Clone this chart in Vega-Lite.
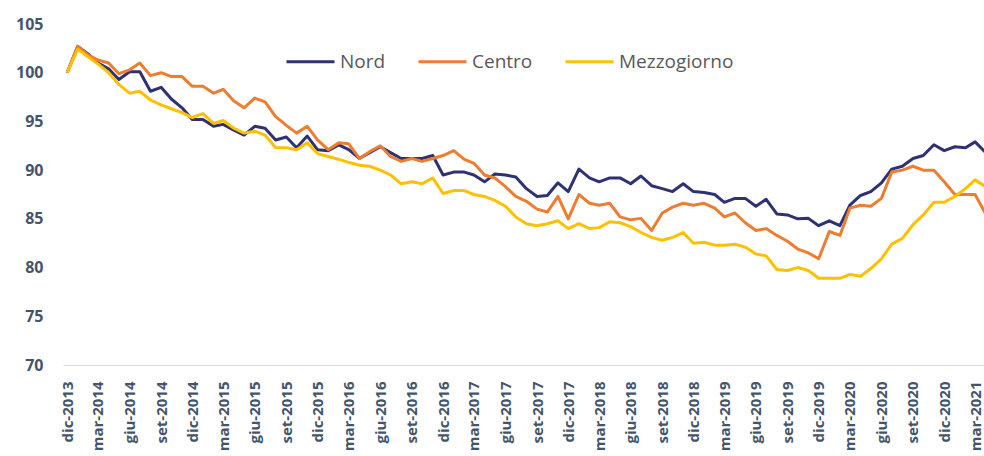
{
  "$schema": "https://vega.github.io/schema/vega-lite/v6.json",
  "autosize": {"type": "none"},
  "padding": {"left": 63, "top": 24, "right": 0, "bottom": 91},
  "width": 921,
  "height": 341,
  "background": "white",
  "config": {"view": {"stroke": null}},
  "data": {"values": [
    {"date": "2013-12-01", "Nord": 100, "Centro": 100, "Mezzogiorno": 100},
    {"date": "2014-01-01", "Nord": 102.7, "Centro": 102.7, "Mezzogiorno": 102.4},
    {"date": "2014-02-01", "Nord": 101.9, "Centro": 101.8, "Mezzogiorno": 101.6},
    {"date": "2014-03-01", "Nord": 101.0, "Centro": 101.3, "Mezzogiorno": 100.9},
    {"date": "2014-04-01", "Nord": 100.4, "Centro": 101.0, "Mezzogiorno": 100.0},
    {"date": "2014-05-01", "Nord": 99.3, "Centro": 99.9, "Mezzogiorno": 98.8},
    {"date": "2014-06-01", "Nord": 100.1, "Centro": 100.3, "Mezzogiorno": 97.9},
    {"date": "2014-07-01", "Nord": 100.1, "Centro": 101.0, "Mezzogiorno": 98.1},
    {"date": "2014-08-01", "Nord": 98.1, "Centro": 99.7, "Mezzogiorno": 97.2},
    {"date": "2014-09-01", "Nord": 98.5, "Centro": 100.0, "Mezzogiorno": 96.7},
    {"date": "2014-10-01", "Nord": 97.3, "Centro": 99.6, "Mezzogiorno": 96.3},
    {"date": "2014-11-01", "Nord": 96.4, "Centro": 99.6, "Mezzogiorno": 95.9},
    {"date": "2014-12-01", "Nord": 95.2, "Centro": 98.6, "Mezzogiorno": 95.4},
    {"date": "2015-01-01", "Nord": 95.2, "Centro": 98.6, "Mezzogiorno": 95.8},
    {"date": "2015-02-01", "Nord": 94.5, "Centro": 97.9, "Mezzogiorno": 94.8},
    {"date": "2015-03-01", "Nord": 94.7, "Centro": 98.3, "Mezzogiorno": 95.1},
    {"date": "2015-04-01", "Nord": 94.1, "Centro": 97.1, "Mezzogiorno": 94.3},
    {"date": "2015-05-01", "Nord": 93.6, "Centro": 96.4, "Mezzogiorno": 93.8},
    {"date": "2015-06-01", "Nord": 94.5, "Centro": 97.4, "Mezzogiorno": 94.0},
    {"date": "2015-07-01", "Nord": 94.3, "Centro": 97.0, "Mezzogiorno": 93.6},
    {"date": "2015-08-01", "Nord": 93.1, "Centro": 95.5, "Mezzogiorno": 92.3},
    {"date": "2015-09-01", "Nord": 93.4, "Centro": 94.6, "Mezzogiorno": 92.3},
    {"date": "2015-10-01", "Nord": 92.3, "Centro": 93.8, "Mezzogiorno": 92.1},
    {"date": "2015-11-01", "Nord": 93.5, "Centro": 94.5, "Mezzogiorno": 92.8},
    {"date": "2015-12-01", "Nord": 92.1, "Centro": 93.1, "Mezzogiorno": 91.7},
    {"date": "2016-01-01", "Nord": 92.0, "Centro": 92.1, "Mezzogiorno": 91.4},
    {"date": "2016-02-01", "Nord": 92.6, "Centro": 92.8, "Mezzogiorno": 91.1},
    {"date": "2016-03-01", "Nord": 92.1, "Centro": 92.7, "Mezzogiorno": 90.8},
    {"date": "2016-04-01", "Nord": 91.2, "Centro": 91.2, "Mezzogiorno": 90.5},
    {"date": "2016-05-01", "Nord": 91.8, "Centro": 91.9, "Mezzogiorno": 90.4},
    {"date": "2016-06-01", "Nord": 92.4, "Centro": 92.5, "Mezzogiorno": 90.0},
    {"date": "2016-07-01", "Nord": 91.8, "Centro": 91.4, "Mezzogiorno": 89.5},
    {"date": "2016-08-01", "Nord": 91.2, "Centro": 90.9, "Mezzogiorno": 88.6},
    {"date": "2016-09-01", "Nord": 91.2, "Centro": 91.2, "Mezzogiorno": 88.8},
    {"date": "2016-10-01", "Nord": 91.2, "Centro": 90.9, "Mezzogiorno": 88.6},
    {"date": "2016-11-01", "Nord": 91.5, "Centro": 91.2, "Mezzogiorno": 89.2},
    {"date": "2016-12-01", "Nord": 89.5, "Centro": 91.5, "Mezzogiorno": 87.6},
    {"date": "2017-01-01", "Nord": 89.8, "Centro": 92.0, "Mezzogiorno": 87.9},
    {"date": "2017-02-01", "Nord": 89.8, "Centro": 91.1, "Mezzogiorno": 87.9},
    {"date": "2017-03-01", "Nord": 89.5, "Centro": 90.7, "Mezzogiorno": 87.5},
    {"date": "2017-04-01", "Nord": 88.8, "Centro": 89.5, "Mezzogiorno": 87.3},
    {"date": "2017-05-01", "Nord": 89.6, "Centro": 89.2, "Mezzogiorno": 86.9},
    {"date": "2017-06-01", "Nord": 89.5, "Centro": 88.3, "Mezzogiorno": 86.3},
    {"date": "2017-07-01", "Nord": 89.3, "Centro": 87.3, "Mezzogiorno": 85.2},
    {"date": "2017-08-01", "Nord": 88.1, "Centro": 86.8, "Mezzogiorno": 84.5},
    {"date": "2017-09-01", "Nord": 87.3, "Centro": 86.0, "Mezzogiorno": 84.3},
    {"date": "2017-10-01", "Nord": 87.4, "Centro": 85.7, "Mezzogiorno": 84.5},
    {"date": "2017-11-01", "Nord": 88.7, "Centro": 87.3, "Mezzogiorno": 84.8},
    {"date": "2017-12-01", "Nord": 87.8, "Centro": 85.0, "Mezzogiorno": 84.0},
    {"date": "2018-01-01", "Nord": 90.1, "Centro": 87.5, "Mezzogiorno": 84.5},
    {"date": "2018-02-01", "Nord": 89.2, "Centro": 86.6, "Mezzogiorno": 84.0},
    {"date": "2018-03-01", "Nord": 88.8, "Centro": 86.4, "Mezzogiorno": 84.1},
    {"date": "2018-04-01", "Nord": 89.2, "Centro": 86.6, "Mezzogiorno": 84.7},
    {"date": "2018-05-01", "Nord": 89.2, "Centro": 85.2, "Mezzogiorno": 84.6},
    {"date": "2018-06-01", "Nord": 88.6, "Centro": 84.9, "Mezzogiorno": 84.2},
    {"date": "2018-07-01", "Nord": 89.4, "Centro": 85.05, "Mezzogiorno": 83.6},
    {"date": "2018-08-01", "Nord": 88.4, "Centro": 83.8, "Mezzogiorno": 83.1},
    {"date": "2018-09-01", "Nord": 88.1, "Centro": 85.6, "Mezzogiorno": 82.8},
    {"date": "2018-10-01", "Nord": 87.8, "Centro": 86.2, "Mezzogiorno": 83.1},
    {"date": "2018-11-01", "Nord": 88.6, "Centro": 86.6, "Mezzogiorno": 83.6},
    {"date": "2018-12-01", "Nord": 87.8, "Centro": 86.4, "Mezzogiorno": 82.5},
    {"date": "2019-01-01", "Nord": 87.7, "Centro": 86.6, "Mezzogiorno": 82.6},
    {"date": "2019-02-01", "Nord": 87.5, "Centro": 86.1, "Mezzogiorno": 82.3},
    {"date": "2019-03-01", "Nord": 86.7, "Centro": 85.2, "Mezzogiorno": 82.3},
    {"date": "2019-04-01", "Nord": 87.1, "Centro": 85.6, "Mezzogiorno": 82.4},
    {"date": "2019-05-01", "Nord": 87.1, "Centro": 84.6, "Mezzogiorno": 82.1},
    {"date": "2019-06-01", "Nord": 86.3, "Centro": 83.8, "Mezzogiorno": 81.4},
    {"date": "2019-07-01", "Nord": 87.0, "Centro": 84.0, "Mezzogiorno": 81.2},
    {"date": "2019-08-01", "Nord": 85.5, "Centro": 83.3, "Mezzogiorno": 79.8},
    {"date": "2019-09-01", "Nord": 85.4, "Centro": 82.7, "Mezzogiorno": 79.7},
    {"date": "2019-10-01", "Nord": 85.0, "Centro": 81.9, "Mezzogiorno": 80.0},
    {"date": "2019-11-01", "Nord": 85.05, "Centro": 81.5, "Mezzogiorno": 79.7},
    {"date": "2019-12-01", "Nord": 84.3, "Centro": 80.9, "Mezzogiorno": 78.9},
    {"date": "2020-01-01", "Nord": 84.8, "Centro": 83.7, "Mezzogiorno": 78.9},
    {"date": "2020-02-01", "Nord": 84.3, "Centro": 83.3, "Mezzogiorno": 78.9},
    {"date": "2020-03-01", "Nord": 86.4, "Centro": 86.1, "Mezzogiorno": 79.3},
    {"date": "2020-04-01", "Nord": 87.4, "Centro": 86.4, "Mezzogiorno": 79.1},
    {"date": "2020-05-01", "Nord": 87.8, "Centro": 86.3, "Mezzogiorno": 79.9},
    {"date": "2020-06-01", "Nord": 88.7, "Centro": 87.1, "Mezzogiorno": 80.9},
    {"date": "2020-07-01", "Nord": 90.1, "Centro": 89.8, "Mezzogiorno": 82.4},
    {"date": "2020-08-01", "Nord": 90.4, "Centro": 90.0, "Mezzogiorno": 83.0},
    {"date": "2020-09-01", "Nord": 91.2, "Centro": 90.4, "Mezzogiorno": 84.4},
    {"date": "2020-10-01", "Nord": 91.5, "Centro": 90.0, "Mezzogiorno": 85.4},
    {"date": "2020-11-01", "Nord": 92.6, "Centro": 90.0, "Mezzogiorno": 86.7},
    {"date": "2020-12-01", "Nord": 92.0, "Centro": 88.8, "Mezzogiorno": 86.7},
    {"date": "2021-01-01", "Nord": 92.4, "Centro": 87.5, "Mezzogiorno": 87.3},
    {"date": "2021-02-01", "Nord": 92.3, "Centro": 87.5, "Mezzogiorno": 88.1},
    {"date": "2021-03-01", "Nord": 92.9, "Centro": 87.5, "Mezzogiorno": 89.0},
    {"date": "2021-04-01", "Nord": 91.8, "Centro": 85.5, "Mezzogiorno": 88.3}
  ]},
  "transform": [
    {"fold": ["Nord", "Centro", "Mezzogiorno"], "as": ["area", "value"]}
  ],
  "mark": {"type": "line", "strokeWidth": 3, "clip": true, "strokeJoin": "round"},
  "encoding": {
    "x": {
      "field": "date",
      "type": "temporal",
      "scale": {
        "type": "utc",
        "domain": [
          {"year": 2013, "month": 11, "date": 19, "utc": true},
          {"year": 2021, "month": 3, "date": 27, "utc": true}
        ]
      },
      "axis": {
        "title": null,
        "values": [
          {"year": 2013, "month": 12, "date": 1, "utc": true},
          {"year": 2014, "month": 3, "date": 1, "utc": true},
          {"year": 2014, "month": 6, "date": 1, "utc": true},
          {"year": 2014, "month": 9, "date": 1, "utc": true},
          {"year": 2014, "month": 12, "date": 1, "utc": true},
          {"year": 2015, "month": 3, "date": 1, "utc": true},
          {"year": 2015, "month": 6, "date": 1, "utc": true},
          {"year": 2015, "month": 9, "date": 1, "utc": true},
          {"year": 2015, "month": 12, "date": 1, "utc": true},
          {"year": 2016, "month": 3, "date": 1, "utc": true},
          {"year": 2016, "month": 6, "date": 1, "utc": true},
          {"year": 2016, "month": 9, "date": 1, "utc": true},
          {"year": 2016, "month": 12, "date": 1, "utc": true},
          {"year": 2017, "month": 3, "date": 1, "utc": true},
          {"year": 2017, "month": 6, "date": 1, "utc": true},
          {"year": 2017, "month": 9, "date": 1, "utc": true},
          {"year": 2017, "month": 12, "date": 1, "utc": true},
          {"year": 2018, "month": 3, "date": 1, "utc": true},
          {"year": 2018, "month": 6, "date": 1, "utc": true},
          {"year": 2018, "month": 9, "date": 1, "utc": true},
          {"year": 2018, "month": 12, "date": 1, "utc": true},
          {"year": 2019, "month": 3, "date": 1, "utc": true},
          {"year": 2019, "month": 6, "date": 1, "utc": true},
          {"year": 2019, "month": 9, "date": 1, "utc": true},
          {"year": 2019, "month": 12, "date": 1, "utc": true},
          {"year": 2020, "month": 3, "date": 1, "utc": true},
          {"year": 2020, "month": 6, "date": 1, "utc": true},
          {"year": 2020, "month": 9, "date": 1, "utc": true},
          {"year": 2020, "month": 12, "date": 1, "utc": true},
          {"year": 2021, "month": 3, "date": 1, "utc": true}
        ],
        "labelExpr": "['gen','feb','mar','apr','mag','giu','lug','ago','set','ott','nov','dic'][utcmonth(datum.value)] + '-' + utcyear(datum.value)",
        "labelAngle": -90,
        "labelAlign": "right",
        "labelBaseline": "middle",
        "labelPadding": 16,
        "labelFont": "Open Sans",
        "labelFontSize": 15,
        "labelFontWeight": "bold",
        "labelColor": "#44546A",
        "labelFlush": false,
        "labelOverlap": false,
        "labelBound": false,
        "ticks": false,
        "grid": false,
        "domain": true,
        "domainColor": "#D9D9D9",
        "domainWidth": 1
      }
    },
    "y": {
      "field": "value",
      "type": "quantitative",
      "scale": {"domain": [70, 105], "nice": false, "zero": false},
      "axis": {
        "title": null,
        "values": [70, 75, 80, 85, 90, 95, 100, 105],
        "labelFont": "Open Sans",
        "labelFontSize": 16,
        "labelFontWeight": "bold",
        "labelColor": "#44546A",
        "labelPadding": 20,
        "ticks": false,
        "grid": false,
        "domain": false
      }
    },
    "color": {
      "field": "area",
      "type": "nominal",
      "sort": ["Nord", "Centro", "Mezzogiorno"],
      "scale": {
        "domain": ["Nord", "Centro", "Mezzogiorno"],
        "range": ["#2E3172", "#ED7D31", "#FFC000"]
      },
      "legend": {
        "title": null,
        "orient": "none",
        "direction": "horizontal",
        "legendX": 222,
        "legendY": 12,
        "padding": 0,
        "symbolType": "stroke",
        "symbolSize": 2304,
        "symbolStrokeWidth": 3,
        "labelFont": "Open Sans",
        "labelFontSize": 19,
        "labelColor": "#595959",
        "labelOffset": 4,
        "columnPadding": 26,
        "labelLimit": 300
      }
    }
  }
}
